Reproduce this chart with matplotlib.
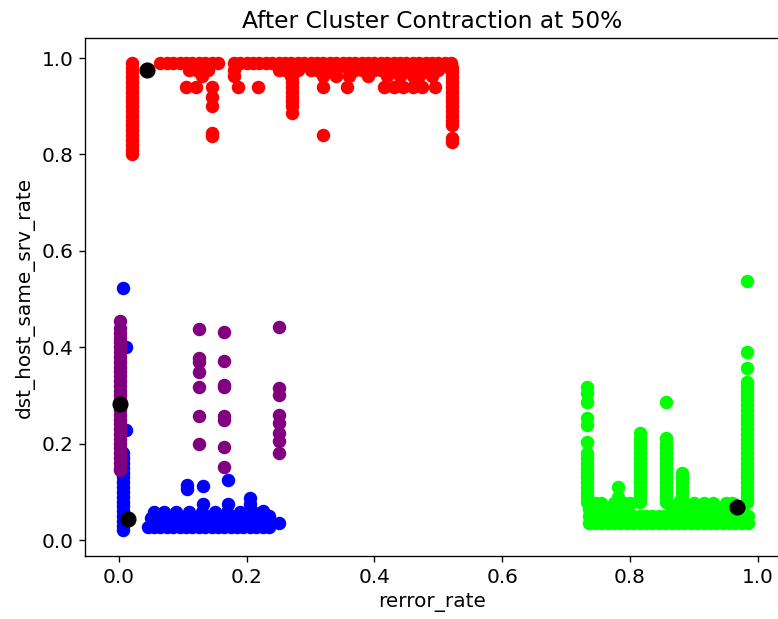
import matplotlib
matplotlib.use("Agg")
import matplotlib.pyplot as plt

# ---------------- data ----------------
# red cluster
red_x = ([0.021] * 20
         + [0.065, 0.075, 0.085, 0.095, 0.105, 0.115, 0.125, 0.135, 0.145, 0.155,
            0.18, 0.19, 0.20, 0.21, 0.22, 0.23, 0.24, 0.25, 0.26, 0.27, 0.28, 0.29,
            0.30, 0.31, 0.32, 0.33, 0.34, 0.35, 0.36, 0.37, 0.38, 0.39, 0.40, 0.41,
            0.42, 0.43, 0.44, 0.45, 0.46, 0.47, 0.48, 0.49, 0.50, 0.51, 0.52]
         + [0.11, 0.12, 0.13, 0.14, 0.18, 0.25, 0.26, 0.27, 0.28, 0.30, 0.31, 0.33,
            0.34, 0.36, 0.37, 0.38, 0.40, 0.41, 0.42, 0.43, 0.44, 0.45, 0.46, 0.47,
            0.48, 0.50, 0.52]
         + [0.13, 0.18, 0.27, 0.32, 0.34, 0.36, 0.39, 0.42, 0.44, 0.46, 0.47, 0.49]
         + [0.105, 0.12, 0.146, 0.186, 0.218, 0.32, 0.357, 0.415, 0.43, 0.445, 0.46,
            0.475, 0.495]
         + [0.146, 0.146, 0.146, 0.146]
         + [0.271] * 10
         + [0.521] * 15
         + [0.32])
red_y = ([0.80, 0.81, 0.82, 0.83, 0.84, 0.85, 0.86, 0.87, 0.88, 0.89,
          0.90, 0.91, 0.92, 0.93, 0.94, 0.95, 0.96, 0.97, 0.98, 0.99]
         + [0.99] * 45
         + [0.975] * 27
         + [0.962] * 12
         + [0.94] * 13
         + [0.92, 0.90, 0.845, 0.838]
         + [0.98, 0.97, 0.96, 0.95, 0.94, 0.93, 0.92, 0.91, 0.90, 0.885]
         + [0.98, 0.97, 0.96, 0.95, 0.94, 0.93, 0.92, 0.91, 0.90, 0.89, 0.88, 0.87,
            0.86, 0.835, 0.825]
         + [0.84])

# blue cluster
blue_x = ([0.006, 0.011, 0.011]
          + [0.007] * 17
          + [0.045, 0.055, 0.065, 0.075, 0.085, 0.095, 0.105, 0.115, 0.125, 0.135,
             0.145, 0.155, 0.165, 0.175, 0.185, 0.195, 0.205, 0.215, 0.225, 0.235]
          + [0.05, 0.06, 0.07, 0.08, 0.09, 0.10, 0.11, 0.12, 0.13, 0.14, 0.15, 0.16,
             0.17, 0.18, 0.19, 0.20, 0.21, 0.22]
          + [0.055, 0.07, 0.09, 0.11, 0.13, 0.15, 0.17, 0.19, 0.21]
          + [0.131, 0.171, 0.205, 0.205, 0.225, 0.235]
          + [0.106, 0.106, 0.131, 0.171, 0.25])
blue_y = ([0.523, 0.40, 0.228]
          + [0.02, 0.03, 0.04, 0.05, 0.06, 0.07, 0.08, 0.09, 0.10, 0.11, 0.12, 0.13,
             0.14, 0.15, 0.16, 0.17, 0.18]
          + [0.028] * 20
          + [0.045] * 18
          + [0.058] * 9
          + [0.075, 0.075, 0.088, 0.075, 0.06, 0.05]
          + [0.115, 0.105, 0.112, 0.124, 0.035])

# purple cluster
purple_x = ([0.002] * 32
            + [0.125] * 7
            + [0.165] * 8
            + [0.25] * 8)
purple_y = ([0.145, 0.15, 0.16, 0.17, 0.18, 0.19, 0.20, 0.21, 0.22, 0.23, 0.24,
             0.25, 0.26, 0.27, 0.28, 0.29, 0.30, 0.31, 0.32, 0.33, 0.34, 0.35,
             0.36, 0.37, 0.38, 0.39, 0.40, 0.41, 0.42, 0.43, 0.44, 0.455]
            + [0.438, 0.378, 0.37, 0.349, 0.318, 0.258, 0.199]
            + [0.432, 0.372, 0.322, 0.317, 0.257, 0.25, 0.193, 0.152]
            + [0.442, 0.315, 0.302, 0.259, 0.243, 0.222, 0.205, 0.18])

# green cluster
green_base_x = [0.735, 0.745, 0.755, 0.765, 0.775, 0.785, 0.795, 0.805, 0.815,
                0.825, 0.835, 0.845, 0.855, 0.865, 0.875, 0.885, 0.895, 0.905,
                0.915, 0.925, 0.935, 0.945, 0.955, 0.965, 0.975, 0.985]
green_x = (green_base_x + green_base_x
           + [0.735, 0.745, 0.755, 0.765, 0.775, 0.785, 0.795, 0.865, 0.875, 0.885,
              0.895, 0.905, 0.915, 0.925, 0.935, 0.945, 0.955, 0.965, 0.975]
           + [0.745, 0.755, 0.775, 0.79, 0.80, 0.875, 0.90, 0.915, 0.93, 0.95, 0.96]
           + [0.732] * 17
           + [0.781] * 3
           + [0.815] * 15
           + [0.857] * 15
           + [0.881] * 7
           + [0.983] * 29)
green_y = ([0.035] * 26 + [0.05] * 26
           + [0.065] * 19
           + [0.076] * 11
           + [0.08, 0.09, 0.10, 0.11, 0.12, 0.13, 0.14, 0.15, 0.16, 0.17, 0.18,
              0.203, 0.239, 0.253, 0.286, 0.305, 0.317]
           + [0.08, 0.09, 0.11]
           + [0.08, 0.09, 0.10, 0.11, 0.12, 0.13, 0.14, 0.15, 0.16, 0.17, 0.18,
              0.19, 0.20, 0.21, 0.222]
           + [0.08, 0.09, 0.10, 0.11, 0.12, 0.13, 0.14, 0.15, 0.16, 0.17, 0.18,
              0.19, 0.20, 0.212, 0.286]
           + [0.08, 0.09, 0.10, 0.11, 0.12, 0.13, 0.139]
           + [0.08, 0.09, 0.10, 0.11, 0.12, 0.13, 0.14, 0.15, 0.16, 0.17, 0.18,
              0.19, 0.20, 0.21, 0.22, 0.23, 0.24, 0.25, 0.26, 0.27, 0.28, 0.29,
              0.30, 0.31, 0.32, 0.328, 0.357, 0.39, 0.537])

# centroids
centroid_x = [0.044, 0.014, 0.002, 0.967]
centroid_y = [0.975, 0.044, 0.282, 0.068]

title = "After Cluster Contraction at 50%"
x_label = "rerror_rate"
y_label = "dst_host_same_srv_rate"

# ---------------- plot ----------------
plt.rcParams["font.size"] = 12
fig = plt.figure(figsize=(778 / 120, 619 / 120), dpi=120)
ax = fig.add_axes([85 / 778, 63 / 619, (778 - 85) / 778 + 0.002, (556 - 38) / 619])

pt = 50
ax.scatter(red_x, red_y, c="#ff0000", s=pt)
ax.scatter(blue_x, blue_y, c="#0000ff", s=pt)
ax.scatter(purple_x, purple_y, c="#800080", s=pt)
ax.scatter(green_x, green_y, c="#00ff00", s=pt)
ax.scatter(centroid_x, centroid_y, c="black", s=75)

ax.set_xlim(-0.053, 1.034)
ax.set_ylim(-0.033, 1.0415)
ax.set_xticks([0.0, 0.2, 0.4, 0.6, 0.8, 1.0])
ax.set_yticks([0.0, 0.2, 0.4, 0.6, 0.8, 1.0])
ax.tick_params(labelsize=12)
ax.set_title(title, fontsize=14)
ax.set_xlabel(x_label, fontsize=12)
ax.set_ylabel(y_label, fontsize=12)

fig.savefig("out.png", dpi=120)
